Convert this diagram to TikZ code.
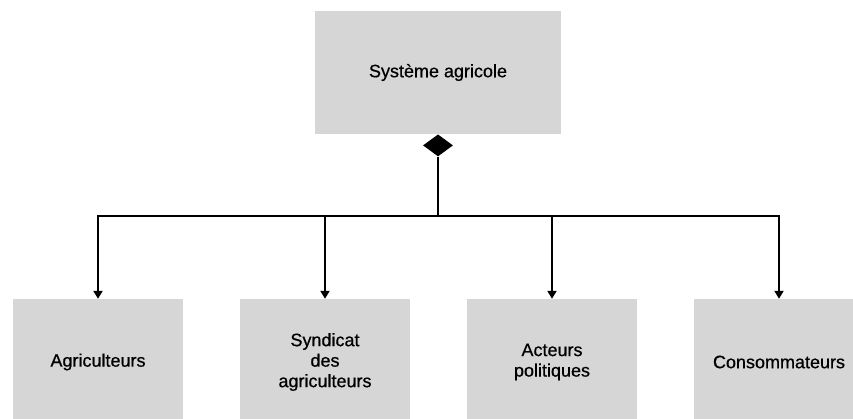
\documentclass[tikz,border=0pt]{standalone}
\usepackage{fontspec}
\setmainfont{Liberation Sans}
\newfontfamily\boxfont[FakeBold=0.6]{Liberation Sans}
\usepackage{xcolor}
\usepackage{tikz}
\usetikzlibrary{positioning,shapes.geometric,arrows.meta}
\definecolor{boxgray}{RGB}{214,214,214}

\begin{document}
\begin{tikzpicture}[x=1pt,y=-1pt,
		part/.style={rectangle, fill=boxgray, minimum width=170pt, minimum height=126pt, align=center, font=\boxfont\fontsize{18}{20.5}\selectfont},
		link/.style={line width=2pt, -{Triangle[width=9pt,length=8pt]}}]
						\useasboundingbox (0,0) rectangle (853,418);
						\node[part, minimum width=246pt, minimum height=123pt] (sys) at (438,72.5) {Système agricole};
						\node[diamond, fill=black, inner sep=0pt, minimum width=30pt, minimum height=22pt, below=0pt of sys] (agg) {};
						\coordinate (join) at (438,216);
						\node[part] (agri) at (98,362) {Agriculteurs};
						\node[part] (synd) at (325,362) {Syndicat\\des\\agriculteurs};
						\node[part] (pol) at (552,362) {Acteurs\\politiques};
						\node[part] (cons) at (779,362) {Consommateurs};
						\draw[line width=2pt] (agg.south) -- (join);
						\draw[link] (join) -| (agri.north);
						\draw[link] (join) -| (synd.north);
						\draw[link] (join) -| (pol.north);
						\draw[link] (join) -| (cons.north);

					\end{tikzpicture}
\end{document}
